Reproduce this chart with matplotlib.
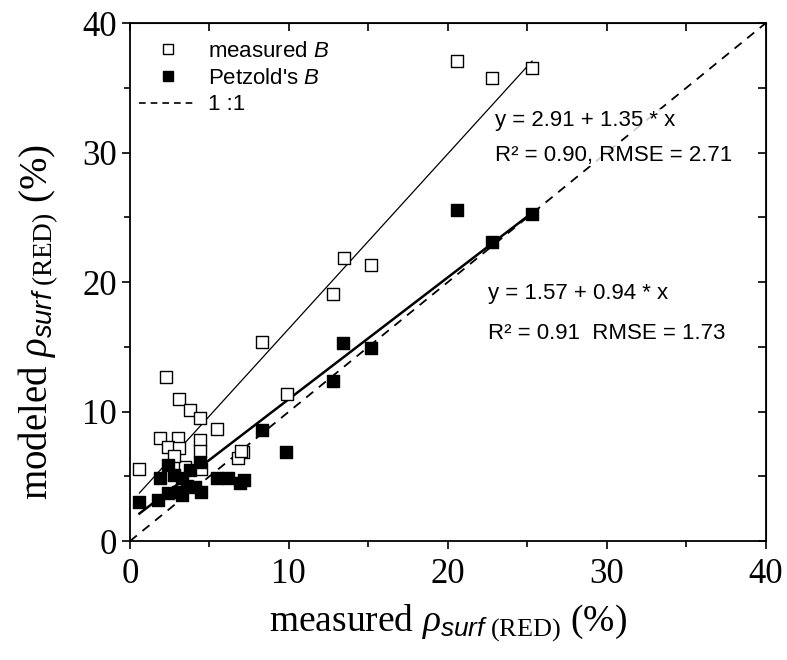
import matplotlib
matplotlib.use("Agg")
import matplotlib.pyplot as plt
import numpy as np
from matplotlib.ticker import MultipleLocator
from matplotlib.lines import Line2D

plt.rcParams['mathtext.fontset'] = 'custom'
plt.rcParams['mathtext.rm'] = 'Liberation Serif'
plt.rcParams['mathtext.it'] = 'Liberation Serif:italic'
plt.rcParams['mathtext.sf'] = 'Liberation Sans:italic'
plt.rcParams['mathtext.bf'] = 'Liberation Serif:bold'

# measured B (open squares)
meas_x = [20.6, 22.8, 25.3, 13.5, 15.2, 12.8, 8.3, 9.9, 5.5, 7.1, 6.8,
          2.3, 3.1, 3.8, 4.4, 1.9, 3.0, 4.4, 2.4, 3.1, 4.4, 0.6, 3.5, 4.5, 7.0, 2.8]
meas_y = [37.1, 35.8, 36.5, 21.9, 21.3, 19.1, 15.4, 11.4, 8.7, 6.9, 6.4,
          12.7, 11.0, 10.1, 9.5, 8.0, 8.0, 7.8, 7.3, 7.2, 7.0, 5.6, 5.7, 5.6, 7.0, 6.6]

# Petzold's B (filled squares)
petz_x = [0.6, 1.8, 1.9, 2.4, 2.8, 3.3, 3.0, 3.6, 4.1, 4.5, 3.8, 4.4, 5.5, 6.2, 6.9,
          3.3, 2.4, 7.2, 8.3, 9.8, 13.4, 15.2, 12.8, 20.6, 22.8, 25.3]
petz_y = [3.0, 3.2, 4.9, 5.9, 5.1, 4.9, 3.8, 4.3, 4.2, 3.8, 5.5, 6.1, 4.9, 4.9, 4.5,
          3.6, 3.7, 4.7, 8.6, 6.9, 15.3, 14.9, 12.4, 25.6, 23.1, 25.3]

fit1 = (2.91, 1.35)
fit2 = (1.57, 0.94)
fit_range = [0.6, 25.3]

fig = plt.figure(figsize=(7.87, 6.6), dpi=100)
ax = fig.add_axes([0.165, 0.18, 0.808, 0.785])

ax.plot([0, 40], [0, 40], ls=(0, (5, 4)), color='black', lw=1.3, zorder=1)
xr = np.array(fit_range)
ax.plot(xr, fit1[0] + fit1[1] * xr, color='black', lw=0.9, zorder=2)
ax.plot(xr, fit2[0] + fit2[1] * xr, color='black', lw=1.8, zorder=2)

ax.scatter(meas_x, meas_y, marker='s', s=70, facecolors='white', edgecolors='black',
           linewidths=1.0, zorder=3)
ax.scatter(petz_x, petz_y, marker='s', s=75, facecolors='black', edgecolors='black',
           linewidths=1.0, zorder=4)

ax.set_xlim(0, 40)
ax.set_ylim(0, 40)
for a in (ax.xaxis, ax.yaxis):
    a.set_major_locator(MultipleLocator(10))
    a.set_minor_locator(MultipleLocator(5))
ax.tick_params(which='major', direction='out', length=6, width=1.2)
ax.tick_params(which='minor', direction='out', length=4, width=1.2)
ax.tick_params(axis='x', pad=6)
for lab in ax.get_xticklabels() + ax.get_yticklabels():
    lab.set_fontfamily('Liberation Serif')
    lab.set_fontsize(25)
for sp in ax.spines.values():
    sp.set_linewidth(1.3)

sx = ax.secondary_xaxis('top')
sx.xaxis.set_major_locator(MultipleLocator(10))
sx.xaxis.set_minor_locator(MultipleLocator(5))
sx.tick_params(which='both', direction='in', labeltop=False, length=6, width=1.2)
sy = ax.secondary_yaxis('right')
sy.yaxis.set_major_locator(MultipleLocator(10))
sy.yaxis.set_minor_locator(MultipleLocator(5))
sy.tick_params(which='both', direction='in', labelright=False, length=6, width=1.2)

ax.set_xlabel(r'measured $\rho_{\mathsf{surf}\ \mathrm{(RED)}}$ (%)',
              fontfamily='Liberation Serif', fontsize=27, labelpad=8)
ax.set_ylabel(r'modeled $\rho_{\mathsf{surf}\ \mathrm{(RED)}}$ (%)',
              fontfamily='Liberation Serif', fontsize=28)
ax.yaxis.set_label_coords(-0.108, 0.423)

handles = [
    Line2D([], [], marker='s', ls='none', markerfacecolor='white', markeredgecolor='black', markersize=7),
    Line2D([], [], marker='s', ls='none', markerfacecolor='black', markeredgecolor='black', markersize=7),
    Line2D([], [], ls=(0, (4, 3)), color='black', lw=1.2),
]
labels = [r'measured $\mathsf{B}$', r"Petzold's $\mathsf{B}$", '1 :1']
leg = ax.legend(handles, labels, loc='upper left', frameon=False,
                prop={'family': 'Liberation Sans', 'size': 16},
                bbox_to_anchor=(-0.01, 0.995), handlelength=2.6, handletextpad=0.5,
                labelspacing=0.25, borderaxespad=0.3)

tkw = dict(fontfamily='Liberation Sans', fontsize=16, ha='left', va='center',
           bbox=dict(facecolor='white', edgecolor='none', pad=0.5, alpha=0.8))
ax.text(23.0, 32.5, 'y = 2.91 + 1.35 * x', **tkw)
ax.text(23.0, 29.8, 'R² = 0.90, RMSE = 2.71', **tkw)
ax.text(22.5, 19.1, 'y = 1.57 + 0.94 * x', **tkw)
ax.text(22.5, 16.0, 'R² = 0.91  RMSE = 1.73', **tkw)

fig.savefig('out.png', dpi=100)
